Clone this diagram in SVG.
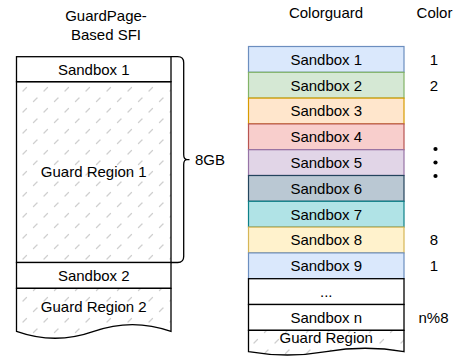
<svg xmlns="http://www.w3.org/2000/svg" width="456" height="356" viewBox="0 0 456 356">
  <defs>
    <!-- light diagonal dash fill for guard regions -->
    <pattern id="hatch" patternUnits="userSpaceOnUse" width="21" height="21">
      <line x1="2" y1="7" x2="5.5" y2="3.5" stroke="#cfcfcf" stroke-width="1.3" stroke-linecap="round"/>
      <line x1="12.5" y1="17.5" x2="16" y2="14" stroke="#cfcfcf" stroke-width="1.3" stroke-linecap="round"/>
    </pattern>
    <style>
      text { font-family: "Liberation Sans", Arial, sans-serif; font-size: 15px; fill: #000; text-anchor: middle; }
      .box { stroke: #000; stroke-width: 1.3; fill: #fff; }
      .guard { stroke: #000; stroke-width: 1.3; fill: url(#hatch); }
      .row { stroke-width: 1.2; }
      .blue { fill: #dae8fc; stroke: #6c8ebf; }
      .green { fill: #d5e8d4; stroke: #82b366; }
      .orange { fill: #ffe6cc; stroke: #d79b00; }
      .red { fill: #f8cecc; stroke: #b85450; }
      .purple { fill: #e1d5e7; stroke: #9673a6; }
      .slate { fill: #bac8d3; stroke: #23445d; }
      .teal { fill: #b0e3e6; stroke: #0e8088; }
      .yellow { fill: #fff2cc; stroke: #d6b656; }
      .brace { fill: none; stroke: #000; stroke-width: 1.3; }
    </style>
  </defs>

  <!-- column titles -->
  <g id="titles">
    <text x="106" y="21">GuardPage-</text>
    <text x="106" y="39.5">Based SFI</text>
    <text x="326" y="17.5">Colorguard</text>
    <text x="434.5" y="17.5">Color</text>
  </g>

  <!-- guard-page layout -->
  <g id="gp-sandbox-1">
    <rect class="box" x="16.5" y="56.7" width="154.5" height="25"/>
    <text x="93.75" y="74.7">Sandbox 1</text>
  </g>
  <g id="gp-guard-1">
    <rect class="guard" x="16.5" y="81.7" width="154.5" height="180.8"/>
    <text x="93.75" y="177">Guard Region 1</text>
  </g>
  <g id="gp-sandbox-2">
    <rect class="box" x="16.5" y="262.5" width="154.5" height="25.8"/>
    <text x="93.75" y="281">Sandbox 2</text>
  </g>
  <g id="gp-guard-2">
    <path class="guard" d="M16.5,288.3 H171 V331.4 Q132.4,317.7 93.75,331.4 Q55.1,345.1 16.5,331.4 Z"/>
    <text x="93.75" y="311.5">Guard Region 2</text>
  </g>

  <!-- brace spanning sandbox 1 + guard region 1 -->
  <g id="connectors">
    <g id="brace-8gb">
      <path class="brace" d="M171,56.7 H177.7 Q183.7,56.7 183.7,62.7 V154.6 Q183.7,159.6 187,159.6 H189.5 M187,159.6 Q183.7,159.6 183.7,164.6 V256.5 Q183.7,262.5 177.7,262.5 H171"/>
      <text x="195" y="165" style="text-anchor:start">8GB</text>
    </g>
  </g>

  <!-- colorguard layout -->
  <g id="cg-sandbox-1">
    <rect class="row blue" x="248.5" y="46.5" width="155.5" height="25.8"/>
    <text x="326.25" y="64.7">Sandbox 1</text>
  </g>
  <g id="cg-sandbox-2">
    <rect class="row green" x="248.5" y="72.3" width="155.5" height="25.8"/>
    <text x="326.25" y="90.5">Sandbox 2</text>
  </g>
  <g id="cg-sandbox-3">
    <rect class="row orange" x="248.5" y="98.1" width="155.5" height="25.8"/>
    <text x="326.25" y="116.3">Sandbox 3</text>
  </g>
  <g id="cg-sandbox-4">
    <rect class="row red" x="248.5" y="123.9" width="155.5" height="25.8"/>
    <text x="326.25" y="142.1">Sandbox 4</text>
  </g>
  <g id="cg-sandbox-5">
    <rect class="row purple" x="248.5" y="149.7" width="155.5" height="25.8"/>
    <text x="326.25" y="167.9">Sandbox 5</text>
  </g>
  <g id="cg-sandbox-6">
    <rect class="row slate" x="248.5" y="175.5" width="155.5" height="25.8"/>
    <text x="326.25" y="193.7">Sandbox 6</text>
  </g>
  <g id="cg-sandbox-7">
    <rect class="row teal" x="248.5" y="201.3" width="155.5" height="25.8"/>
    <text x="326.25" y="219.5">Sandbox 7</text>
  </g>
  <g id="cg-sandbox-8">
    <rect class="row yellow" x="248.5" y="227.1" width="155.5" height="25.8"/>
    <text x="326.25" y="245.3">Sandbox 8</text>
  </g>
  <g id="cg-sandbox-9">
    <rect class="row blue" x="248.5" y="252.9" width="155.5" height="25.8"/>
    <text x="326.25" y="271.1">Sandbox 9</text>
  </g>
  <g id="cg-ellipsis">
    <rect class="box" x="248.5" y="278.7" width="155.5" height="25.8"/>
    <text x="326.25" y="296.9">...</text>
  </g>
  <g id="cg-sandbox-n">
    <rect class="box" x="248.5" y="304.5" width="155.5" height="25.8"/>
    <text x="326.25" y="322.7">Sandbox n</text>
  </g>
  <g id="cg-guard">
    <path class="guard" d="M248.5,330.3 H404 V351.65 Q365.1,344.9 326.25,351.65 Q287.4,358.4 248.5,351.65 Z"/>
    <text x="326.25" y="343">Guard Region</text>
  </g>

  <!-- color indices -->
  <g id="colors">
    <text x="434" y="64.7">1</text>
    <text x="434" y="90.5">2</text>
    <circle cx="435.5" cy="149" r="2.1" fill="#000"/>
    <circle cx="435.5" cy="162.5" r="2.1" fill="#000"/>
    <circle cx="435.5" cy="176" r="2.1" fill="#000"/>
    <text x="434" y="245.3">8</text>
    <text x="434" y="271.1">1</text>
    <text x="433.5" y="322.7">n%8</text>
  </g>
</svg>
